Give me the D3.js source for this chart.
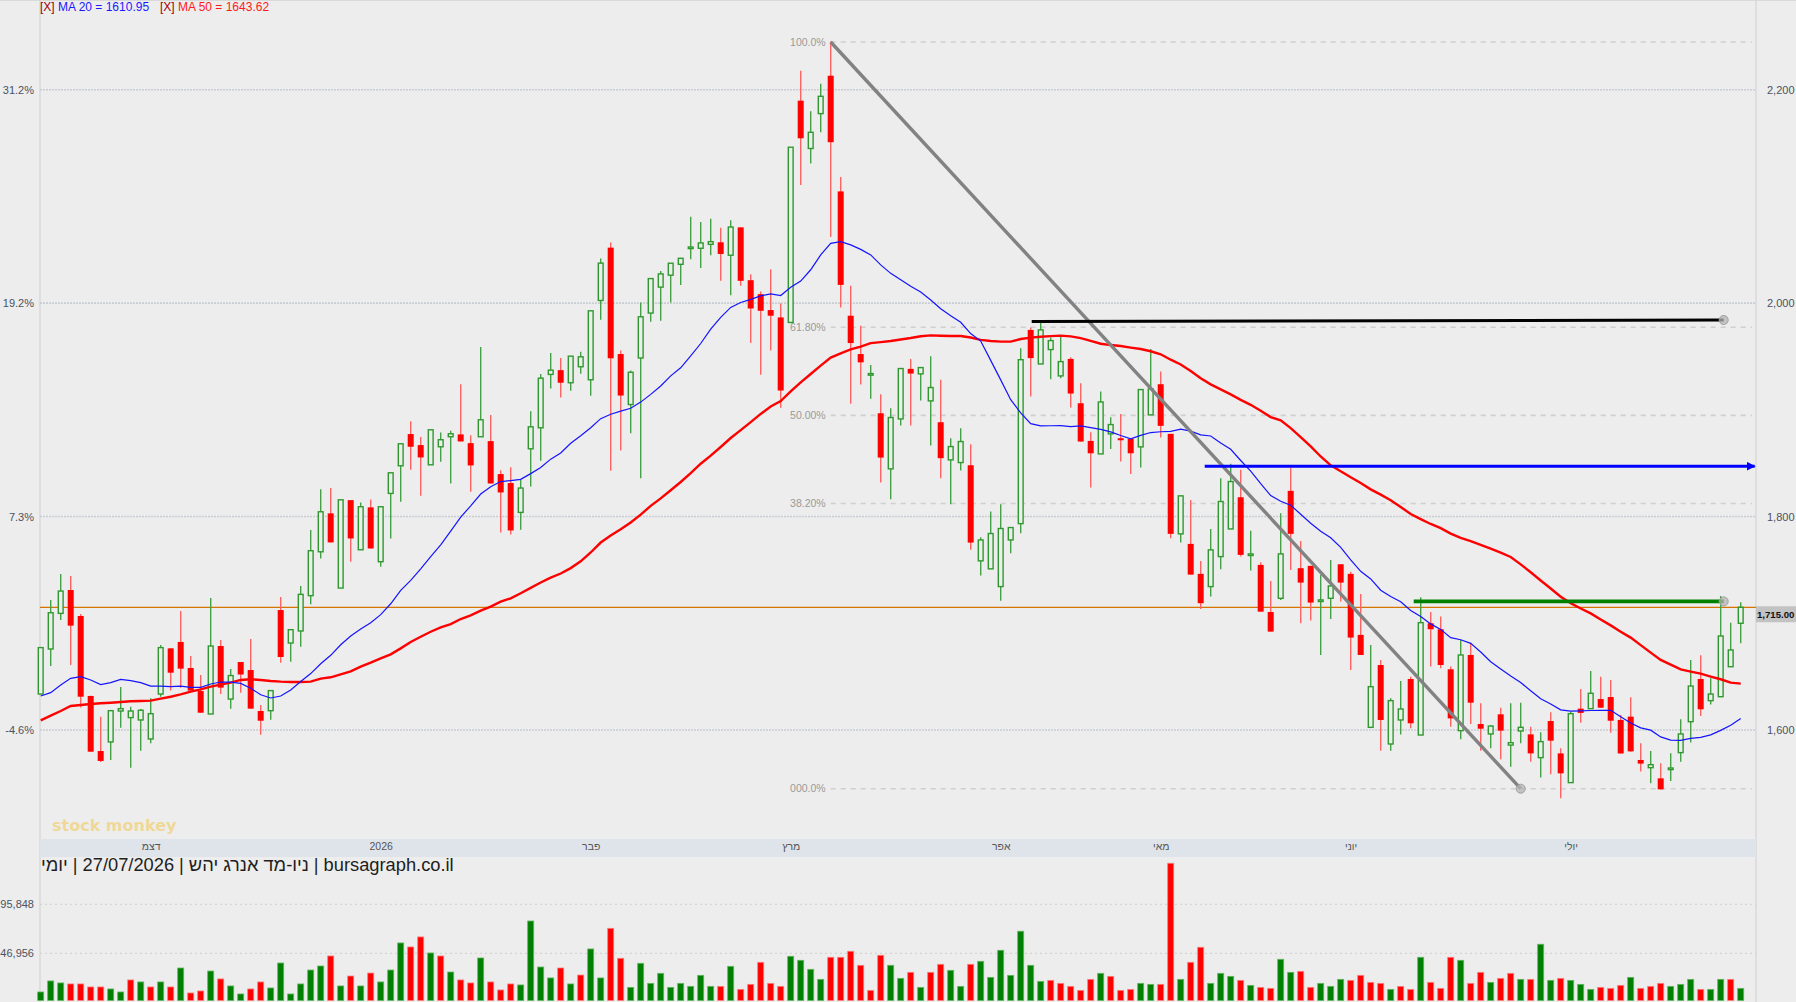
<!DOCTYPE html>
<html>
<head>
<meta charset="utf-8">
<script src="https://cdn.jsdelivr.net/npm/d3@7"></script>
<style>
  html, body { margin: 0; padding: 0; background: #ededed; }
  svg { display: block; font-family: "Liberation Sans", Arial, sans-serif; }
</style>
</head>
<body>
<svg id="chart" width="1796" height="1002"></svg>
<script>
// daily candles (index 0 = first visible day)
const OPEN = [
  1633.7,1675.9,1709.3,1731.2,1706.8,1631.9,1580.3,1588.8,1617.8,1611.6,
  1609.4,1591.6,1633.7,1676.5,1682.5,1658.1,1636.5,1615,1678.7,1629,
  1663.7,1656.2,1617.8,1618.1,1712.4,1681.5,1692.8,1725.9,1767,1803,
  1733,1815.4,1768.9,1808.6,1757.7,1821.7,1847.6,1877.3,1867,1848.5,
  1865.4,1874.8,1877,1868.8,1874.8,1870.7,1839.8,1831.4,1803.9,1863.5,
  1883.2,1933.2,1937.2,1925.4,1940.4,1928.2,2002.5,2052,1952.3,1905,
  1948.6,1990.7,2015,2026.2,2036.4,2051.7,2051.4,2055.1,2057,2044.9,
  2071,2021.5,2008.4,1993.5,1986.6,1981.9,2189.7,2144.9,2177.6,2213.1,
  2104.7,1988.2,1952.3,1933.3,1896.8,1844.7,1891.5,1938.4,1933.7,1908.4,
  1888.4,1853.1,1850.6,1848.1,1758.5,1751,1734.4,1778.1,1793.4,1974.9,
  1943,1956.5,1931.8,1947.7,1906.2,1870.9,1858.7,1877.5,1873.4,1872.8,
  1865.3,1895.3,1924,1877.5,1783.8,1774.4,1746.3,1734.4,1762.5,1788.4,
  1818.1,1764.1,1754.7,1710.6,1723.4,1824.1,1751.6,1753.8,1721.3,1723.4,
  1755.3,1746.3,1689.1,1602.5,1660.9,1586.9,1609.4,1647.8,1595.3,1700,
  1694.4,1656.9,1599.4,1670.3,1605.6,1596.3,1614.7,1585.9,1599.1,1595.9,
  1574.1,1608.4,1578.1,1550.7,1620,1620,1629,1630.9,1609.4,1612.5,
  1571.9,1564.7,1554.7,1563.5,1578.8,1607.8,1647.8,1627.5,1631.2,1659.3,1700
];
const HIGH = [
  1677.2,1721.8,1746.2,1744.3,1708.7,1632,1612.5,1618.1,1640.3,1621.9,
  1619.7,1629.7,1679.6,1676.5,1711.5,1669.3,1651.5,1723.7,1684.3,1657.2,
  1663.7,1685.3,1623.4,1636.9,1724.6,1694,1734.9,1787.3,1825.7,1826.7,
  1815.7,1815.4,1813.2,1816,1809.2,1841,1868.2,1889.4,1874.5,1881.3,
  1878.8,1880.4,1924.1,1876.3,1958.8,1895.1,1843.5,1846.3,1834.2,1898.8,
  1933.5,1953.2,1948.5,1950.3,1954.4,1992.8,2041.8,2056.7,1955.5,1936.8,
  2000.6,2023,2030.2,2037.4,2042,2081,2076,2079.1,2070.7,2077.6,
  2071,2027.1,2010.9,2031.8,1999.7,2146.1,2217.8,2179.8,2205.6,2245.2,
  2118.1,2016.2,1978.8,1942.1,1914.6,1901.5,1938.7,1947.7,1939.6,1950.2,
  1928.1,1873.4,1882.8,1867.8,1780.6,1804.7,1811.6,1789.7,1957.7,1977.1,
  1982.1,1967.7,1968.7,1949.3,1924.9,1879,1917.1,1893.1,1896.2,1872.8,
  1919,1957.1,1935.9,1877.5,1819.4,1815.6,1758.4,1788.4,1835.9,1849.4,
  1843.8,1786.6,1757.2,1739.7,1803.1,1845.9,1777.2,1753.8,1745.3,1759.4,
  1755.3,1748.4,1727.5,1679.7,1665.6,1629.7,1645.9,1650,1724.4,1710.6,
  1706.3,1659.4,1684.3,1681.8,1625,1604.7,1620.9,1625,1625.6,1603.1,
  1597.8,1616.6,1582.8,1617.2,1638.4,1655.3,1650,1646.9,1614.1,1630.6,
  1587.5,1580.3,1568.8,1578.1,1610,1665.6,1670,1648.4,1725.6,1700.6,1719.6
];
const LOW = [
  1633.7,1660,1703,1660.9,1621.2,1579.7,1570,1571.9,1602.2,1564.7,
  1580.6,1587.5,1631.2,1636.9,1639.7,1636.9,1616.2,1615,1633.7,1620,
  1635,1620,1595.6,1609.7,1663.1,1664,1678.1,1717.8,1760.8,1775.8,
  1733,1757.7,1768.9,1770.1,1753,1779.5,1813.9,1843.8,1819.5,1848.5,
  1851.3,1831,1870.4,1823.2,1874.8,1831,1785.1,1783.3,1787.6,1828.2,
  1852.3,1920,1911.6,1917.9,1933.8,1913.2,1984.4,1843,1862,1878,
  1836,1982.5,1983.5,2000.6,2017.1,2041.1,2033,2044.9,2020.9,2007.5,
  2016.2,1962.6,1933,1955.5,1901.9,1981.9,2110.6,2130.8,2160.1,2062,
  1996,1905.6,1923.7,1910.3,1831.9,1816.2,1885.3,1885.3,1908.7,1866.5,
  1835.9,1811.6,1843.1,1768.8,1744.7,1751,1721,1765.6,1784.4,1912.4,
  1943,1928.7,1929.6,1902.1,1870.3,1827.2,1858.7,1863.4,1851.5,1840,
  1845.9,1895.3,1874,1779.7,1775.6,1745.6,1713.4,1725,1750.6,1788.4,
  1762.5,1749.4,1710.9,1692.2,1721.9,1750,1700,1702.5,1670.3,1704.1,
  1720.3,1656.3,1670.3,1602.5,1580.6,1580.6,1595.9,1601.6,1595.3,1659.4,
  1657.8,1603.1,1591.3,1605.6,1580.6,1582.8,1572.5,1565.6,1587.5,1570.3,
  1555.6,1558.5,1536,1550.7,1606.9,1620,1620.9,1597.5,1578,1579.7,
  1561,1550,1544,1552.2,1570.3,1588.4,1613.1,1624,1631.2,1659.3,1681.2
];
const CLOSE = [
  1677.2,1709.9,1730.2,1697.8,1631.2,1579.7,1571,1618.1,1620,1617.8,
  1618.5,1615.3,1677.2,1653.7,1657.5,1636.9,1616.2,1678.7,1639.7,1651,
  1652,1620,1608.7,1636.9,1668.4,1694,1727.1,1768,1804.5,1775.8,
  1815.7,1779.5,1809.2,1770.1,1809.2,1841,1868.2,1865.4,1855.4,1881.3,
  1872,1877.6,1870.4,1847.9,1890.7,1831,1822.6,1787,1826.7,1884.1,
  1929.7,1937.2,1925.4,1950.3,1949.7,1992.8,2037.5,1948.3,1913.4,1935.2,
  1987.2,2023,2027.4,2037.4,2042,2052.6,2056.4,2057.6,2046.1,2071.3,
  2020.9,1995,1992.8,1988.2,1918.1,2146.1,2154.5,2160.1,2193.8,2150.8,
  2017.1,1962.6,1944.5,1934,1855.3,1892.8,1938.7,1934,1939.6,1920.9,
  1854.7,1865.6,1870.3,1775.6,1778.1,1784.1,1788.8,1789.7,1947,1948.5,
  1974.9,1964.9,1945.2,1915.3,1870.3,1859.3,1907.4,1886.2,1871.5,1859.3,
  1919,1919.6,1885,1783.8,1819.4,1745.6,1718.8,1768.8,1814.1,1832.8,
  1764.1,1765,1710.9,1692.2,1765,1783.8,1738.1,1719.4,1721.9,1735,
  1738.1,1686.6,1670.3,1640.6,1609.4,1627.5,1619.7,1606.3,1700.6,1694.4,
  1660.9,1610.9,1670.3,1625.6,1601.2,1603.7,1599.4,1588.1,1602.5,1578.1,
  1589.1,1590,1559.4,1615.3,1616,1634.4,1620.9,1608.7,1578,1580,
  1568.5,1567.5,1544.4,1564.4,1596.3,1641.2,1619.4,1633.7,1688.1,1675,1715
];
const VOLUME = [
  8400,19400,17400,16400,16400,13400,13400,11400,8400,20400,
  18400,13400,18400,13400,32300,7400,9400,29300,21400,14400,
  6400,11400,18400,12400,37300,6400,16400,30300,34300,44300,
  14400,24300,14400,27300,18400,30300,57300,53300,63300,47300,
  44300,28300,20400,17400,42300,18400,10400,16400,15400,79200,
  33300,22400,32300,16400,25300,51300,22400,71900,42000,13000,
  37000,17000,27000,13000,17000,14000,25000,14000,14000,34000,
  11000,16000,38000,17000,14000,44000,40000,31000,21000,43000,
  43000,49000,35000,10000,45000,35000,22000,28000,13000,28000,
  36000,30000,14000,36000,39000,23000,50000,25000,69000,35000,
  19000,20000,17000,14000,10000,21000,27000,24000,10000,11000,
  17000,16000,16000,136800,21000,38000,53000,17000,27000,24000,
  20000,15000,13000,12000,41000,28000,29000,13000,17000,14000,
  21000,20000,25000,18000,17000,11000,14000,11000,43000,18000,
  12000,43000,40000,17000,28000,18000,22000,27000,21000,21000,
  56000,20000,22000,20000,16000,11000,13000,12000,15000,23000,
  12000,14000,17000,14000,16000,21000,11000,11000,21000,21000,12000
];

// moving-average values before a full window is on screen
const MA20_HEAD = [1631.9,1635,1642.2,1648.4,1650,1646.9,1642.5,1644.4,1647.5,1646.2,
  1644.4,1641.2,1641.2,1640.6,1641.2,1640,1640,1643.1,1645];
const MA50_HEAD = [1609,1613.4,1617.8,1622.5,1623.4,1624.4,1625,1625.6,1626.2,1626.9,
  1627.2,1627.5,1629.4,1631.2,1633.4,1635.9,1638.1,1640.6,1642.5,1644.4,
  1646.9,1647.5,1646.9,1645.9,1645.3,1645,1645,1645.3,1648.1,1649.4,
  1652.2,1655,1659.3,1663.1,1667.2,1670.9,1676.5,1682.5,1687.4,1692.1,
  1696.2,1699.3,1704,1707.5,1711.8,1715.6,1720.3,1723.4,1728.1];

// axes
const PRICE_TICKS = [2200, 2000, 1800, 1600];
const PCT_LABELS = ["31.2%", "19.2%", "7.3%", "-4.6%"];
const VOL_TICKS = [95848, 46956];
const MONTH_LABELS = ["דצמ", "2026", "פבר", "מרץ", "אפר", "מאי", "יוני", "יולי"];
const MONTH_IDX = [11, 34, 55, 75, 96, 112, 131, 153];

// fibonacci retracement
const FIB_LOW = 1545, FIB_HIGH = 2244.7;
const FIB_LEVELS = [0, 0.382, 0.5, 0.618, 1];
const FIB_LABELS = ["000.0%", "38.20%", "50.00%", "61.80%", "100.0%"];

// drawn lines: [index, price] pairs
const TREND_LINE = [[79, 2244.7], [148, 1545]];
const BLACK_LINE = [[99.1, 1982.8], [168.3, 1984.2]];
const BLUE_LINE = [[116.4, 1847.2], [171.4, 1847.2]];
const GREEN_LINE = [[137.3, 1720.5], [168.3, 1720.5]];

const MA20_TEXT = "MA 20 = 1610.95";
const MA50_TEXT = "MA 50 = 1643.62";
const TITLE_PARTS = ["יומי", "|", "27/07/2026", "|", "ניו-מד אנרג יהש", "|", "bursagraph.co.il"];

const W = 1796, H = 1002;
const LEFT = 40, RIGHT = 1756;
const BAND_TOP = 839, BAND_BOTTOM = 857;

const x = d3.scaleLinear().domain([0, 170]).range([40.7, 1740.7]);
const y = d3.scaleLinear().domain([1600, 2200]).range([730, 89.7]);
const yVol = d3.scaleLinear().domain([0, 95848]).range([1000.4, 904.3]);

const svg = d3.select("#chart");
const idx = d3.range(CLOSE.length);

svg.append("rect").attr("width", W).attr("height", H).attr("fill", "#ededed");

// frame
svg.append("line").attr("x1", 0).attr("x2", W).attr("y1", 0.5).attr("y2", 0.5)
  .attr("stroke", "#d9d9d9");
[LEFT, RIGHT].forEach(px => {
  svg.append("line").attr("x1", px).attr("x2", px).attr("y1", 0).attr("y2", H)
    .attr("stroke", "#d4d4d4").attr("stroke-width", 1.2);
});

// price grid
svg.append("g").selectAll("line").data(PRICE_TICKS).join("line")
  .attr("x1", LEFT).attr("x2", RIGHT)
  .attr("y1", d => y(d)).attr("y2", d => y(d))
  .attr("stroke", "#c9cdd4").attr("stroke-width", 1.6).attr("stroke-dasharray", "2,1");

// left % axis, right price axis
const leftAxis = svg.append("g").attr("transform", "translate(" + LEFT + ",0)")
  .call(d3.axisLeft(y).tickValues(PRICE_TICKS).tickSize(0).tickPadding(6)
    .tickFormat((d, i) => PCT_LABELS[i]));
const rightAxis = svg.append("g").attr("transform", "translate(" + RIGHT + ",0)")
  .call(d3.axisRight(y).tickValues(PRICE_TICKS).tickSize(0).tickPadding(11)
    .tickFormat(d3.format(",")));
[leftAxis, rightAxis].forEach(g => {
  g.select(".domain").remove();
  g.selectAll("text").attr("font-size", 11).attr("fill", "#4b5261")
    .attr("font-family", "Liberation Sans, Arial, sans-serif");
});

// fibonacci levels
const fibPrice = l => FIB_LOW + l * (FIB_HIGH - FIB_LOW);
const fibG = svg.append("g");
fibG.selectAll("line").data(FIB_LEVELS).join("line")
  .attr("x1", x(79)).attr("x2", RIGHT - 4)
  .attr("y1", d => y(fibPrice(d))).attr("y2", d => y(fibPrice(d)))
  .attr("stroke", "#cfcfcf").attr("stroke-width", 1.6).attr("stroke-dasharray", "5,5");
fibG.selectAll("text").data(FIB_LEVELS).join("text")
  .attr("x", x(79) - 5).attr("y", d => y(fibPrice(d)))
  .attr("dy", "0.35em").attr("text-anchor", "end")
  .attr("font-size", 10.5).attr("fill", "#9a9a9a")
  .text((d, i) => FIB_LABELS[i]);

// last price line
const LAST = CLOSE[CLOSE.length - 1];
svg.append("line").attr("x1", LEFT).attr("x2", RIGHT)
  .attr("y1", y(LAST)).attr("y2", y(LAST))
  .attr("stroke", "#d67400").attr("stroke-width", 1.3);

// candles
const isUp = i => CLOSE[i] >= OPEN[i];
const candles = svg.append("g");
candles.selectAll("line").data(idx).join("line")
  .attr("x1", i => x(i)).attr("x2", i => x(i))
  .attr("y1", i => y(HIGH[i])).attr("y2", i => y(LOW[i]))
  .attr("stroke", i => isUp(i) ? "#45a145" : "#ff6363")
  .attr("stroke-width", 1.4);
candles.selectAll("rect").data(idx).join("rect")
  .attr("x", i => isUp(i) ? x(i) - 2.4 : x(i) - 3)
  .attr("width", i => isUp(i) ? 4.8 : 6)
  .attr("y", i => y(Math.max(OPEN[i], CLOSE[i])))
  .attr("height", i => Math.max(Math.abs(y(OPEN[i]) - y(CLOSE[i])), 1.6))
  .attr("fill", i => isUp(i) ? "#ededed" : "#ff0000")
  .attr("stroke", i => isUp(i) ? "#2f992f" : "none")
  .attr("stroke-width", 1.4);

// moving averages
const ma = (n, head) => idx.map(i => i < n - 1 ? head[i] : d3.mean(CLOSE.slice(i - n + 1, i + 1)));
const MA20 = ma(20, MA20_HEAD);
const MA50 = ma(50, MA50_HEAD);
const maLine = d3.line().x((d, i) => x(i)).y(d => y(d));
svg.append("path").datum(MA50).attr("d", maLine)
  .attr("fill", "none").attr("stroke", "#ff0000").attr("stroke-width", 2.4);
svg.append("path").datum(MA20).attr("d", maLine)
  .attr("fill", "none").attr("stroke", "#1414ff").attr("stroke-width", 1.2);

// drawn lines
svg.append("defs").append("marker")
  .attr("id", "arrow").attr("viewBox", "0 0 10 10").attr("refX", 9).attr("refY", 5)
  .attr("markerWidth", 3).attr("markerHeight", 3).attr("orient", "auto")
  .append("path").attr("d", "M0,0L10,5L0,10Z").attr("fill", "#0000ff");

const segLine = d3.line().x(d => x(d[0])).y(d => y(d[1]));
svg.append("path").datum(TREND_LINE).attr("d", segLine)
  .attr("stroke", "#828282").attr("stroke-width", 3.4).attr("fill", "none");
svg.append("path").datum(BLACK_LINE).attr("d", segLine)
  .attr("stroke", "#000").attr("stroke-width", 3).attr("fill", "none");
svg.append("path").datum(BLUE_LINE).attr("d", segLine)
  .attr("stroke", "#0000ff").attr("stroke-width", 3).attr("fill", "none")
  .attr("marker-end", "url(#arrow)");
svg.append("path").datum(GREEN_LINE).attr("d", segLine)
  .attr("stroke", "#008000").attr("stroke-width", 3.6).attr("fill", "none");

const ends = [TREND_LINE[1], BLACK_LINE[1], GREEN_LINE[1]];
svg.append("g").selectAll("circle").data(ends).join("circle")
  .attr("cx", d => x(d[0])).attr("cy", d => y(d[1])).attr("r", 4.5)
  .attr("fill", "#b4b4b4").attr("fill-opacity", 0.75)
  .attr("stroke", "#a0a0a0").attr("stroke-width", 1);

// last price tag
const tagY = y(LAST);
svg.append("rect").attr("x", RIGHT).attr("y", tagY - 1).attr("width", W - RIGHT).attr("height", 16)
  .attr("fill", "#c3c3c3");
svg.append("text").attr("x", RIGHT + 1).attr("y", tagY + 7).attr("dy", "0.35em")
  .attr("font-size", 9.6).attr("font-weight", "bold").attr("fill", "#111")
  .text(d3.format(",.2f")(LAST));

// date band
svg.append("rect").attr("x", LEFT).attr("y", BAND_TOP)
  .attr("width", RIGHT - LEFT).attr("height", BAND_BOTTOM - BAND_TOP).attr("fill", "#dfe4ea");
const dateAxis = svg.append("g").attr("transform", "translate(0," + BAND_TOP + ")")
  .call(d3.axisBottom(x).tickValues(MONTH_IDX).tickSize(0).tickPadding(4)
    .tickFormat((d, i) => MONTH_LABELS[i]));
dateAxis.select(".domain").remove();
dateAxis.selectAll("text").attr("font-size", 10.5).attr("fill", "#555")
  .attr("font-family", "Liberation Sans, Arial, sans-serif");

// volume panel
svg.append("g").selectAll("line").data(VOL_TICKS).join("line")
  .attr("x1", LEFT).attr("x2", RIGHT)
  .attr("y1", d => yVol(d)).attr("y2", d => yVol(d))
  .attr("stroke", "#cfcfcf").attr("stroke-width", 1).attr("stroke-dasharray", "2,3");
const volAxis = svg.append("g").attr("transform", "translate(" + LEFT + ",0)")
  .call(d3.axisLeft(yVol).tickValues(VOL_TICKS).tickSize(0).tickPadding(6)
    .tickFormat(d3.format(",")));
volAxis.select(".domain").remove();
volAxis.selectAll("text").attr("font-size", 11).attr("fill", "#4b5261")
  .attr("font-family", "Liberation Sans, Arial, sans-serif");

const volUp = i => i === 0 || CLOSE[i] >= CLOSE[i - 1];
svg.append("g").selectAll("rect").data(idx).join("rect")
  .attr("x", i => x(i) - 3).attr("width", 6)
  .attr("y", i => yVol(VOLUME[i]))
  .attr("height", i => yVol(0) - yVol(VOLUME[i]))
  .attr("fill", i => volUp(i) ? "#008000" : "#ff0000")
  .attr("stroke", i => volUp(i) ? "#5cb85c" : "#ff7a7a")
  .attr("stroke-width", 0.8);

// title, pieces laid out left to right
const titleG = svg.append("g").attr("font-size", 18.3).attr("fill", "#1e1e1e");
let tx = 41;
TITLE_PARTS.forEach(s => {
  const t = titleG.append("text").attr("x", tx).attr("y", 871).text(s);
  tx += t.node().getComputedTextLength() + 5;
});

// legend
const legend = svg.append("g").attr("font-size", 12);
legend.append("text").attr("x", 40).attr("y", 11).attr("fill", "#a40000").text("[X]");
legend.append("text").attr("x", 58).attr("y", 11).attr("fill", "#1a1aff").text(MA20_TEXT);
legend.append("text").attr("x", 160).attr("y", 11).attr("fill", "#a40000").text("[X]");
legend.append("text").attr("x", 178).attr("y", 11).attr("fill", "#ff1a1a").text(MA50_TEXT);

// watermark
svg.append("text").attr("x", 52).attr("y", 831)
  .attr("font-family", "DejaVu Sans, sans-serif").attr("font-weight", "bold")
  .attr("font-size", 16).attr("fill", "#f0d27a").attr("fill-opacity", 0.75)
  .text("stock monkey");
</script>
</body>
</html>
